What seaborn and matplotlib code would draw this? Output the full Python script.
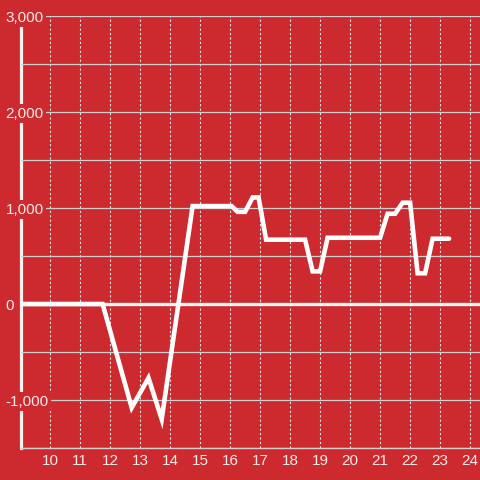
import numpy as np
import pandas as pd
import matplotlib
matplotlib.use("Agg")
import matplotlib.pyplot as plt
import seaborn as sns

# ---- data ----
hours = [9.03, 11.75, 12.72, 13.28, 13.72, 14.75, 16.05, 16.25, 16.5, 16.75, 16.95,
         17.2, 18.5, 18.75, 19.0, 19.25, 21.0, 21.25, 21.5, 21.75, 22.0,
         22.25, 22.5, 22.75, 23.3]
values = [0, 0, -1080, -770, -1200, 1020, 1020, 960, 960, 1110, 1110,
          670, 670, 340, 340, 690, 690, 940, 940, 1055, 1055,
          320, 320, 680, 680]
x_ticks = list(range(10, 25))
y_ticks = [-1000, 0, 1000, 2000, 3000]
y_tick_labels = ["-1,000", "0", "1,000", "2,000", "3,000"]
y_grid = list(range(-1500, 3001, 500))

bg = "#CC2A2E"
sns.set_style("white")
plt.rcParams["font.family"] = ["Liberation Sans", "DejaVu Sans"]

df = pd.DataFrame({"hour": hours, "value": values})

fig = plt.figure(figsize=(4.8, 4.8), dpi=100, facecolor=bg)
ax = fig.add_axes([21 / 480, 32 / 480, 459 / 480, 432 / 480])
ax.set_facecolor(bg)

ax.axhline(0, color="#F4F4F4", lw=2.4, zorder=3.5)
sns.lineplot(data=df, x="hour", y="value", ax=ax, color="white", linewidth=3.3,
             estimator=None, sort=False, zorder=4)
for ln in ax.get_lines():
    ln.set_solid_joinstyle("miter")

ax.set_xlim(9.03, 24.33)
ax.set_ylim(-1500, 3000)
ax.set_xlabel("")
ax.set_ylabel("")

ax.set_xticks(x_ticks)
ax.set_xticklabels([str(t) for t in x_ticks])
ax.set_yticks(y_ticks)
ax.set_yticklabels(y_tick_labels)
ax.set_yticks(y_grid, minor=True)

ax.grid(False)
ax.yaxis.grid(True, which="both", color="#CFCFCF", lw=0.9)
ax.xaxis.grid(True, which="major", color="#E0E0E0", lw=0.8, ls=(0, (2, 2)))
ax.xaxis.set_zorder(0.5)
ax.yaxis.set_zorder(3)

ax.tick_params(axis="x", which="both", length=0, pad=4.5, labelsize=11, labelcolor="#F5EAEA")
ax.tick_params(axis="y", which="both", length=0, pad=11, labelsize=11, labelcolor="#F5EAEA")
for lab in ax.get_yticklabels():
    lab.set_horizontalalignment("left")
    lab.set_bbox(dict(facecolor=bg, edgecolor="none", pad=1.5))

for s in ["top", "right"]:
    ax.spines[s].set_visible(False)
ax.spines["left"].set_color("#F2F2F2")
ax.spines["left"].set_linewidth(2.3)
ax.spines["bottom"].set_color("#D0D0D0")
ax.spines["bottom"].set_linewidth(1.0)

fig.savefig("out.png", dpi=100, facecolor=bg)
